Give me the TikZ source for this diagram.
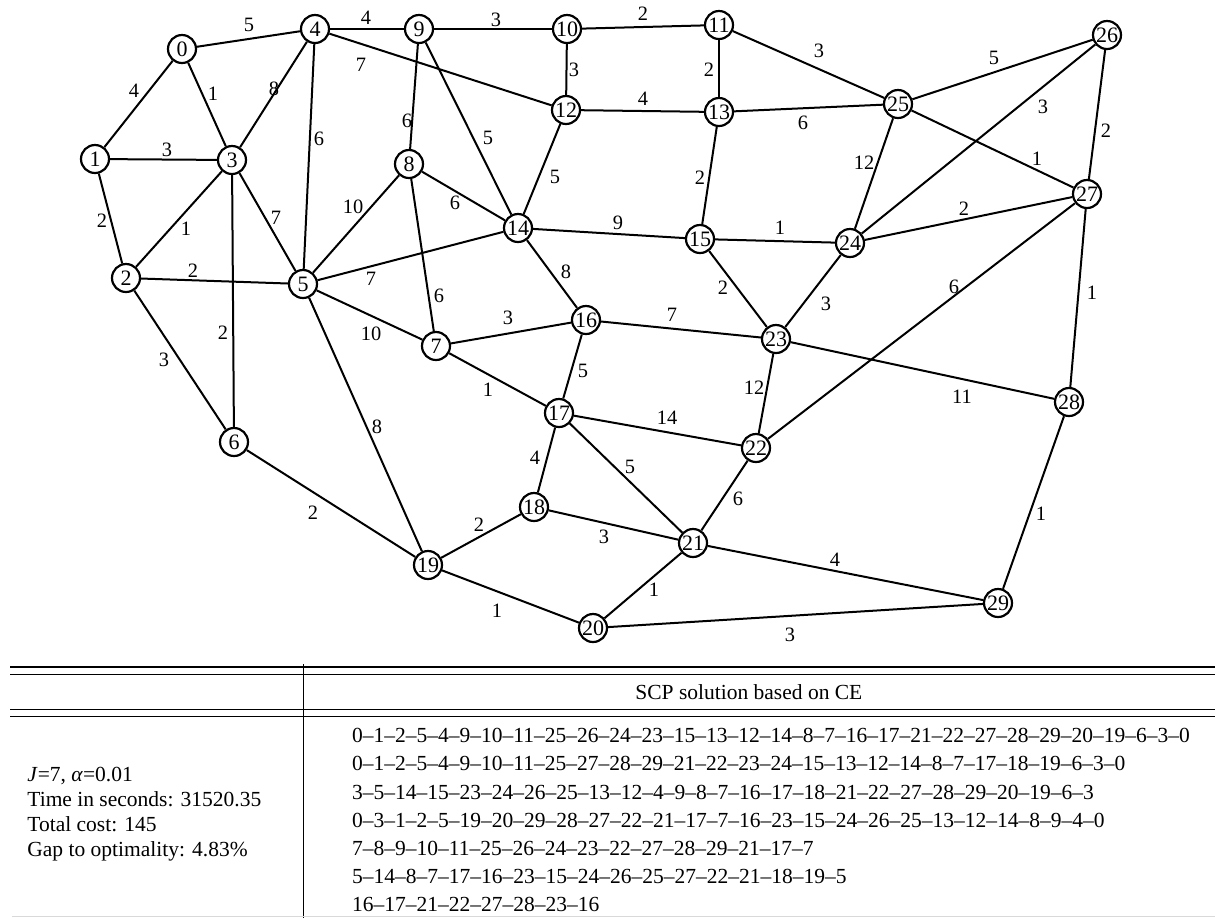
\documentclass[tikz,border=0pt]{standalone}
\usepackage{fontspec}
\setmainfont{Liberation Serif}
\newcommand\edgelab[5]{\draw[edge] (n#1) -- (n#2); \node[lab] (l#1x#2) at (#4,#5) {#3};}
\begin{document}
\begin{tikzpicture}[x=0.5pt,y=-0.5pt,
  vert/.style={circle,draw,line width=1.1pt,minimum size=14pt,inner sep=0pt,fill=white,font=\fontsize{11}{12}\selectfont},
  lab/.style={inner sep=0pt,font=\fontsize{10.2}{12}\selectfont},
  edge/.style={line width=1pt},
  tab/.style={anchor=base west,inner sep=0pt,font=\fontsize{10.75}{12}\selectfont}]
\useasboundingbox (0,0) rectangle (1215,918);
% vertices
\node[vert] (n0) at (182,49) {0};
\node[vert] (n1) at (95,159) {1};
\node[vert] (n2) at (126,278) {2};
\node[vert] (n3) at (232,160) {3};
\node[vert] (n4) at (315,29) {4};
\node[vert] (n5) at (303,284) {5};
\node[vert] (n6) at (234,442) {6};
\node[vert] (n7) at (436,346) {7};
\node[vert] (n8) at (409,164) {8};
\node[vert] (n9) at (419,29) {9};
\node[vert] (n10) at (567,29) {10};
\node[vert] (n11) at (719,25) {11};
\node[vert] (n12) at (566,110) {12};
\node[vert] (n13) at (719,112) {13};
\node[vert] (n14) at (518,228) {14};
\node[vert] (n15) at (700,239) {15};
\node[vert] (n16) at (586,320) {16};
\node[vert] (n17) at (559,413) {17};
\node[vert] (n18) at (534,507) {18};
\node[vert] (n19) at (428,565) {19};
\node[vert] (n20) at (593,628) {20};
\node[vert] (n21) at (693,543) {21};
\node[vert] (n22) at (756,448) {22};
\node[vert] (n23) at (776,339) {23};
\node[vert] (n24) at (850,243) {24};
\node[vert] (n25) at (898,104) {25};
\node[vert] (n26) at (1107,35) {26};
\node[vert] (n27) at (1087,194) {27};
\node[vert] (n28) at (1069,402) {28};
\node[vert] (n29) at (998,603) {29};
% edges with weights
\edgelab{0}{1}{4}{134}{91}
\edgelab{0}{3}{1}{213}{94}
\edgelab{0}{4}{5}{249}{25}
\edgelab{1}{3}{3}{167}{150}
\edgelab{1}{2}{2}{102}{221}
\edgelab{2}{3}{1}{186}{229}
\edgelab{2}{5}{2}{193}{271}
\edgelab{2}{6}{3}{164}{360}
\edgelab{3}{4}{8}{274}{89}
\edgelab{3}{5}{7}{276}{218}
\edgelab{3}{6}{2}{223}{333}
\edgelab{4}{5}{6}{319}{139}
\edgelab{4}{9}{4}{366}{18}
\edgelab{4}{12}{7}{361}{65}
\edgelab{5}{8}{10}{353}{207}
\edgelab{5}{14}{7}{371}{279}
\edgelab{5}{7}{10}{371}{334}
\edgelab{5}{19}{8}{377}{427}
\edgelab{6}{19}{2}{313}{513}
\edgelab{8}{9}{6}{407}{121}
\edgelab{8}{14}{6}{455}{203}
\edgelab{7}{8}{6}{439}{296}
\edgelab{9}{10}{3}{496}{20}
\edgelab{9}{14}{5}{488}{138}
\edgelab{10}{11}{2}{643}{14}
\edgelab{10}{12}{3}{574}{70}
\edgelab{11}{13}{2}{709}{70}
\edgelab{11}{25}{3}{819}{51}
\edgelab{12}{13}{4}{643}{99}
\edgelab{12}{14}{5}{555}{177}
\edgelab{13}{15}{2}{700}{178}
\edgelab{13}{25}{6}{803}{123}
\edgelab{14}{15}{9}{618}{223}
\edgelab{14}{16}{8}{566}{272}
\edgelab{15}{24}{1}{780}{228}
\edgelab{15}{23}{2}{723}{288}
\edgelab{7}{16}{3}{508}{318}
\edgelab{7}{17}{1}{488}{390}
\edgelab{16}{17}{5}{583}{371}
\edgelab{16}{23}{7}{672}{315}
\edgelab{17}{22}{14}{667}{418}
\edgelab{17}{18}{4}{535}{458}
\edgelab{17}{21}{5}{630}{467}
\edgelab{18}{19}{2}{479}{525}
\edgelab{18}{21}{3}{604}{537}
\edgelab{19}{20}{1}{497}{611}
\edgelab{20}{21}{1}{654}{590}
\edgelab{20}{29}{3}{790}{635}
\edgelab{21}{22}{6}{738}{499}
\edgelab{21}{29}{4}{835}{560}
\edgelab{22}{23}{12}{754}{388}
\edgelab{22}{27}{6}{954}{287}
\edgelab{23}{24}{3}{826}{304}
\edgelab{23}{28}{11}{962}{397}
\edgelab{24}{25}{12}{864}{163}
\edgelab{24}{26}{3}{1043}{107}
\edgelab{24}{27}{2}{964}{209}
\edgelab{25}{26}{5}{994}{58}
\edgelab{25}{27}{1}{1037}{159}
\edgelab{26}{27}{2}{1106}{131}
\edgelab{27}{28}{1}{1092}{293}
\edgelab{28}{29}{1}{1041}{514}
% table rules
\draw[line width=0.9pt] (10,666.7) -- (1215,666.7);
\draw[line width=0.6pt] (10,674.3) -- (1215,674.3);
\draw[line width=0.75pt] (10,709.3) -- (1215,709.3);
\draw[line width=0.75pt] (10,716.3) -- (1215,716.3);
\draw[line width=0.8pt] (303.3,664) -- (303.3,918);
\draw[line width=0.5pt,gray!30] (12,916.8) -- (1215,916.8);
% table text
\node[tab] (hdr) at (635,699) {SCP solution based on CE};
\node[tab] (p1) at (27,781.7) {\textit{J}=7, \textit{α}=0.01};
\node[tab] (p2) at (27,806.7) {Time in seconds: 31520.35};
\node[tab] (p3) at (27,831.7) {Total cost: 145};
\node[tab] (p4) at (27,856.7) {Gap to optimality: 4.83\%};
\node[tab] (r1) at (351.7,742.7) {0--1--2--5--4--9--10--11--25--26--24--23--15--13--12--14--8--7--16--17--21--22--27--28--29--20--19--6--3--0};
\node[tab] (r2) at (351.7,770.9) {0--1--2--5--4--9--10--11--25--27--28--29--21--22--23--24--15--13--12--14--8--7--17--18--19--6--3--0};
\node[tab] (r3) at (351.7,799.1) {3--5--14--15--23--24--26--25--13--12--4--9--8--7--16--17--18--21--22--27--28--29--20--19--6--3};
\node[tab] (r4) at (351.7,827.3) {0--3--1--2--5--19--20--29--28--27--22--21--17--7--16--23--15--24--26--25--13--12--14--8--9--4--0};
\node[tab] (r5) at (351.7,855.5) {7--8--9--10--11--25--26--24--23--22--27--28--29--21--17--7};
\node[tab] (r6) at (351.7,883.7) {5--14--8--7--17--16--23--15--24--26--25--27--22--21--18--19--5};
\node[tab] (r7) at (351.7,911.9) {16--17--21--22--27--28--23--16};
\end{tikzpicture}
\end{document}
